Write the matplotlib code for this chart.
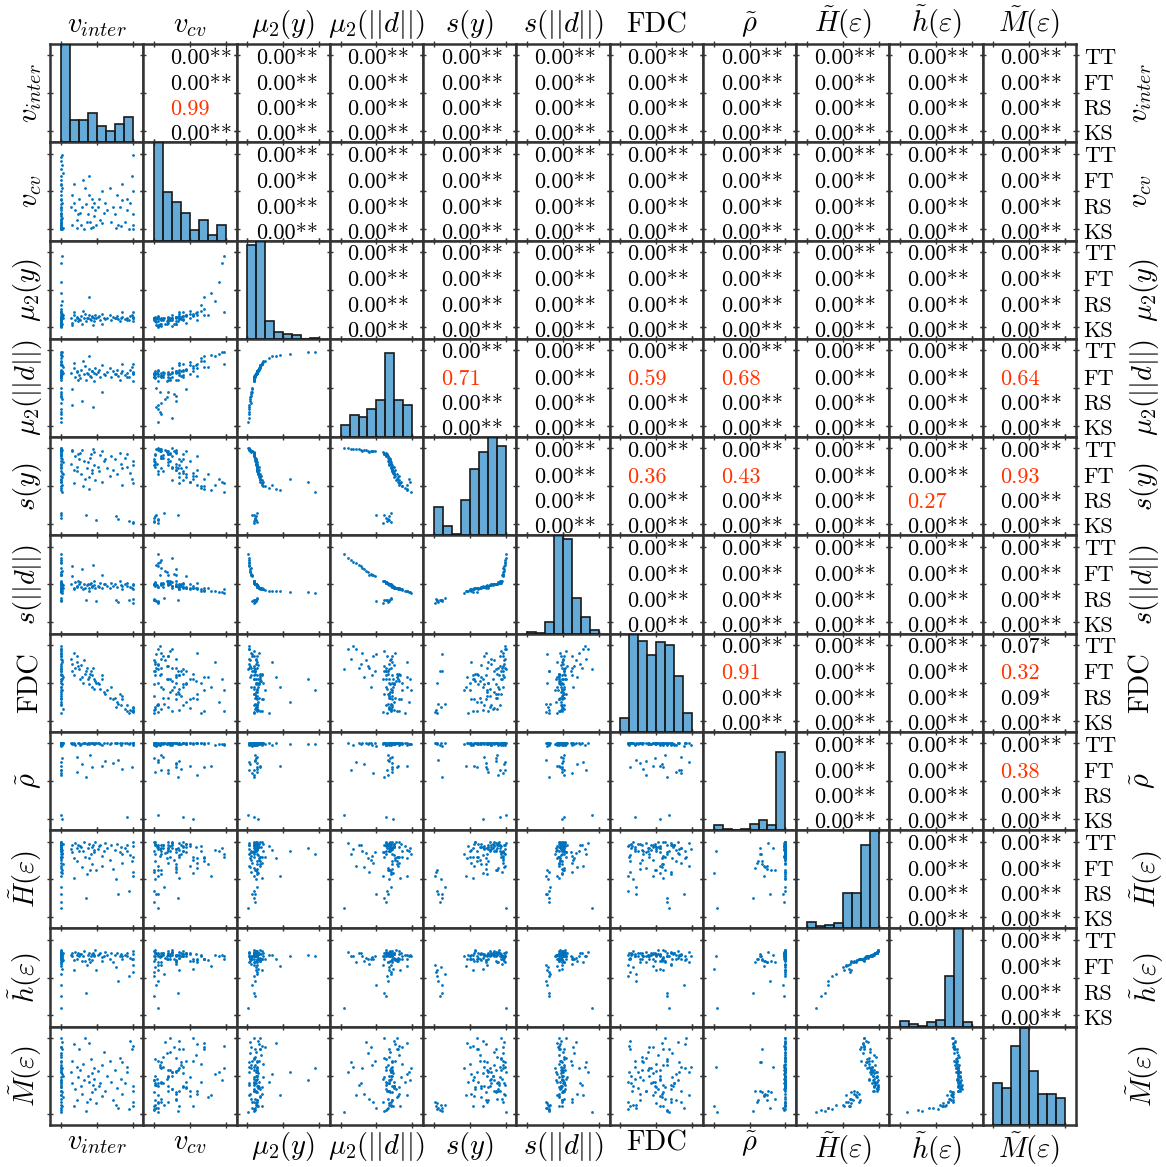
import matplotlib.pyplot as plt
import numpy as np

plt.rcParams['mathtext.fontset'] = 'cm'
plt.rcParams['font.family'] = ['cmr10', 'DejaVu Serif']
plt.rcParams['axes.formatter.use_mathtext'] = True

labels = [r'$v_{inter}$', r'$v_{cv}$', r'$\mu_2(y)$', r'$\mu_2(||d||)$', r'$s(y)$',
          r'$s(||d||)$', 'FDC', r'$\tilde{\rho}$', r'$\tilde{H}(\varepsilon)$',
          r'$\tilde{h}(\varepsilon)$', r'$\tilde{M}(\varepsilon)$']
tests = ['TT', 'FT', 'RS', 'KS']

# samples (normalised to 0..1), one list per measure
v_inter = [0.00, 0.01, 0.00, 0.02, 0.00, 0.01, 0.00, 0.00, 0.02, 0.01,
           0.00, 0.00, 0.03, 0.00, 0.01, 0.00, 0.02, 0.00, 0.00, 0.01,
           0.00, 0.00, 0.02, 0.00, 0.01, 0.00, 0.00, 0.03, 0.00, 0.01,
           0.00, 0.00, 0.02, 0.00, 0.00, 0.01, 0.00, 0.00, 0.02, 0.00,
           0.14, 0.16, 0.18, 0.20, 0.22, 0.15, 0.23, 0.19, 0.24, 0.26,
           0.28, 0.30, 0.32, 0.34, 0.27, 0.36, 0.31, 0.35, 0.38, 0.40,
           0.42, 0.44, 0.45, 0.47, 0.48, 0.39, 0.41, 0.43, 0.46, 0.49,
           0.52, 0.55, 0.58, 0.60, 0.53, 0.57, 0.61, 0.65, 0.68, 0.70,
           0.73, 0.76, 0.78, 0.80, 0.82, 0.84, 0.86, 0.77, 0.85, 0.90,
           0.93, 0.95, 0.97, 1.00, 1.00, 1.00, 0.99, 1.00, 0.92, 1.00]
v_cv = [0.95, 0.10, 0.02, 0.35, 0.60, 0.25, 0.05, 0.80, 0.15, 0.00,
        0.45, 0.20, 0.02, 0.70, 0.30, 0.08, 0.55, 0.12, 0.90, 0.03,
        0.40, 0.18, 0.00, 0.65, 0.22, 0.05, 0.33, 0.75, 0.10, 0.50,
        0.01, 0.28, 0.85, 0.14, 0.38, 0.06, 0.58, 0.00, 0.98, 0.20,
        0.30, 0.05, 0.60, 0.25, 0.02, 0.45, 0.12, 0.35, 0.20, 0.40,
        0.06, 0.30, 0.00, 0.55, 0.22, 0.10, 0.65, 0.33, 0.20, 0.45,
        0.02, 0.30, 0.03, 0.35, 0.25, 0.70, 0.10, 0.40, 0.18, 0.05,
        0.30, 0.12, 0.50, 0.22, 0.40, 0.08, 0.35, 0.25, 0.55, 0.10,
        0.30, 0.20, 0.45, 0.05, 0.30, 0.04, 0.60, 0.02, 0.38, 0.10,
        0.25, 0.00, 0.35, 0.98, 0.50, 0.05, 0.70, 0.20, 0.40, 0.00]
mu2_y = [0.85, 0.05, 0.12, 0.18, 0.10, 0.02, 0.14, 0.45, 0.04, 0.11,
         0.16, 0.06, 0.13, 0.25, 0.05, 0.03, 0.15, 0.11, 0.60, 0.07,
         0.20, 0.04, 0.12, 0.30, 0.10, 0.01, 0.14, 0.17, 0.02, 0.22,
         0.09, 0.05, 0.35, 0.13, 0.11, 0.02, 0.19, 0.12, 0.95, 0.10,
         0.12, 0.03, 0.16, 0.10, 0.14, 0.06, 0.13, 0.20, 0.09, 0.11,
         0.15, 0.04, 0.12, 0.18, 0.10, 0.13, 0.22, 0.09, 0.12, 0.16,
         0.10, 0.14, 0.03, 0.13, 0.17, 0.40, 0.11, 0.15, 0.09, 0.12,
         0.14, 0.10, 0.18, 0.12, 0.15, 0.05, 0.11, 0.13, 0.16, 0.10,
         0.14, 0.12, 0.15, 0.11, 0.09, 0.13, 0.20, 0.12, 0.14, 0.11,
         0.13, 0.10, 0.15, 0.20, 0.12, 0.09, 0.17, 0.14, 0.10, 0.13]
mu2_d = [0.97, 0.30, 0.68, 0.80, 0.66, 0.10, 0.72, 0.93, 0.35, 0.64,
         0.74, 0.45, 0.70, 0.86, 0.40, 0.18, 0.73, 0.67, 0.95, 0.50,
         0.82, 0.38, 0.69, 0.90, 0.60, 0.05, 0.71, 0.78, 0.15, 0.84,
         0.63, 0.42, 0.92, 0.70, 0.66, 0.22, 0.81, 0.68, 0.98, 0.65,
         0.70, 0.28, 0.76, 0.64, 0.72, 0.48, 0.71, 0.83, 0.61, 0.67,
         0.74, 0.33, 0.69, 0.79, 0.63, 0.70, 0.85, 0.60, 0.68, 0.75,
         0.64, 0.72, 0.25, 0.70, 0.77, 0.92, 0.66, 0.73, 0.59, 0.68,
         0.71, 0.65, 0.80, 0.69, 0.74, 0.44, 0.67, 0.71, 0.76, 0.64,
         0.72, 0.69, 0.74, 0.66, 0.60, 0.70, 0.82, 0.68, 0.72, 0.67,
         0.70, 0.65, 0.74, 0.82, 0.68, 0.59, 0.78, 0.71, 0.64, 0.70]
s_y = [0.55, 0.97, 0.80, 0.62, 0.90, 1.00, 0.70, 0.45, 0.98, 0.08,
       0.76, 0.96, 0.82, 0.50, 0.95, 0.99, 0.68, 0.88, 0.60, 0.12,
       0.58, 0.97, 0.86, 0.48, 0.93, 1.00, 0.74, 0.66, 0.99, 0.56,
       0.91, 0.96, 0.52, 0.15, 0.84, 0.99, 0.64, 0.78, 0.42, 0.92,
       0.80, 0.98, 0.72, 0.90, 0.76, 0.97, 0.70, 0.54, 0.92, 0.86,
       0.66, 0.98, 0.84, 0.60, 0.94, 0.74, 0.50, 0.12, 0.82, 0.62,
       0.93, 0.72, 0.99, 0.78, 0.58, 0.46, 0.88, 0.68, 0.95, 0.05,
       0.76, 0.91, 0.56, 0.84, 0.70, 0.97, 0.86, 0.74, 0.64, 0.90,
       0.72, 0.86, 0.66, 0.06, 0.94, 0.80, 0.52, 0.10, 0.74, 0.88,
       0.76, 0.04, 0.68, 0.54, 0.84, 0.02, 0.60, 0.78, 0.92, 0.03]
s_d = [0.40, 0.72, 0.50, 0.44, 0.52, 0.85, 0.47, 0.41, 0.68, 0.30,
       0.46, 0.62, 0.49, 0.43, 0.63, 0.80, 0.48, 0.51, 0.40, 0.28,
       0.45, 0.66, 0.50, 0.42, 0.54, 0.90, 0.47, 0.45, 0.82, 0.44,
       0.53, 0.64, 0.41, 0.32, 0.51, 0.78, 0.45, 0.49, 0.39, 0.52,
       0.50, 0.74, 0.46, 0.53, 0.48, 0.61, 0.47, 0.44, 0.55, 0.51,
       0.47, 0.70, 0.50, 0.45, 0.53, 0.49, 0.44, 0.30, 0.50, 0.46,
       0.52, 0.48, 0.76, 0.49, 0.46, 0.41, 0.51, 0.47, 0.54, 0.28,
       0.48, 0.52, 0.45, 0.50, 0.47, 0.62, 0.50, 0.48, 0.46, 0.52,
       0.48, 0.50, 0.47, 0.27, 0.54, 0.49, 0.44, 0.29, 0.48, 0.51,
       0.48, 0.30, 0.47, 0.44, 0.50, 0.26, 0.46, 0.49, 0.52, 0.31]
fdc = [0.55, 0.90, 0.75, 0.60, 0.35, 0.95, 0.20, 0.45, 0.80, 0.65,
       0.50, 0.85, 0.15, 0.40, 0.70, 0.98, 0.55, 0.30, 0.25, 0.88,
       0.62, 0.72, 0.48, 0.10, 0.92, 0.68, 0.38, 0.58, 0.82, 0.28,
       0.60, 0.45, 0.78, 0.22, 0.65, 0.95, 0.52, 0.32, 0.40, 0.85,
       0.82, 0.75, 0.90, 0.70, 0.78, 0.65, 0.85, 0.60, 0.72, 0.68,
       0.74, 0.58, 0.80, 0.62, 0.55, 0.70, 0.50, 0.65, 0.55, 0.48,
       0.65, 0.60, 0.70, 0.42, 0.52, 0.58, 0.62, 0.45, 0.55, 0.50,
       0.50, 0.42, 0.55, 0.38, 0.48, 0.60, 0.35, 0.40, 0.30, 0.45,
       0.28, 0.30, 0.25, 0.22, 0.35, 0.20, 0.28, 0.18, 0.32, 0.15,
       0.12, 0.10, 0.14, 0.12, 0.16, 0.11, 0.13, 0.18, 0.20, 0.14]
rho = [0.99, 1.00, 0.98, 1.00, 0.58, 1.00, 0.99, 0.70, 1.00, 0.98,
       0.99, 0.60, 1.00, 0.99, 1.00, 0.98, 0.00, 1.00, 0.99, 0.97,
       1.00, 0.99, 0.80, 1.00, 1.00, 0.05, 0.99, 1.00, 0.65, 1.00,
       0.99, 1.00, 0.98, 1.00, 0.99, 0.75, 1.00, 1.00, 0.99, 0.64,
       1.00, 0.99, 1.00, 0.98, 0.62, 1.00, 0.82, 0.99, 1.00, 1.00,
       0.99, 0.72, 1.00, 1.00, 0.98, 0.99, 1.00, 0.55, 1.00, 0.99,
       1.00, 0.68, 1.00, 0.99, 1.00, 1.00, 0.85, 1.00, 0.99, 1.00,
       1.00, 0.99, 0.70, 1.00, 1.00, 0.98, 0.76, 1.00, 0.99, 1.00,
       0.74, 1.00, 1.00, 0.78, 1.00, 0.98, 1.00, 1.00, 0.66, 1.00,
       1.00, 0.99, 1.00, 0.98, 1.00, 1.00, 0.68, 1.00, 0.03, 1.00]
H_eps = [0.92, 0.88, 0.95, 0.80, 0.65, 0.98, 0.90, 0.55, 0.85, 0.20,
         0.93, 0.72, 0.97, 0.80, 0.60, 0.90, 0.58, 0.96, 0.88, 0.30,
         0.99, 0.78, 0.62, 0.94, 0.80, 0.12, 0.91, 0.70, 0.83, 0.97,
         0.99, 0.76, 0.89, 0.40, 0.95, 0.68, 0.93, 0.87, 0.84, 0.92,
         0.90, 0.95, 0.78, 0.98, 0.74, 0.86, 0.91, 0.52, 0.96, 0.88,
         0.93, 0.66, 0.99, 0.80, 0.94, 0.57, 0.87, 0.25, 0.92, 0.97,
         0.84, 0.70, 0.95, 0.89, 0.99, 0.78, 0.62, 0.93, 0.86, 0.62,
         0.90, 0.96, 0.68, 0.88, 0.94, 0.81, 0.98, 0.92, 0.76, 0.95,
         0.64, 0.89, 0.97, 0.30, 0.86, 0.93, 0.72, 0.50, 0.84, 0.91,
         0.96, 0.35, 0.82, 0.80, 0.94, 0.55, 0.74, 0.99, 0.87, 0.60]
h_eps = [0.80, 0.78, 0.82, 0.76, 0.70, 0.84, 0.79, 0.65, 0.76, 0.25,
         0.81, 0.74, 0.83, 0.74, 0.68, 0.79, 0.62, 0.82, 0.78, 0.40,
         0.85, 0.75, 0.72, 0.80, 0.74, 0.10, 0.80, 0.73, 0.78, 0.83,
         0.86, 0.75, 0.80, 0.55, 0.82, 0.71, 0.81, 0.79, 0.78, 0.81,
         0.80, 0.82, 0.73, 0.84, 0.74, 0.79, 0.80, 0.60, 0.83, 0.79,
         0.81, 0.72, 0.85, 0.72, 0.81, 0.67, 0.79, 0.30, 0.80, 0.83,
         0.78, 0.73, 0.82, 0.80, 0.86, 0.74, 0.70, 0.81, 0.79, 0.60,
         0.80, 0.83, 0.72, 0.79, 0.81, 0.77, 0.84, 0.80, 0.75, 0.82,
         0.71, 0.80, 0.83, 0.45, 0.79, 0.81, 0.74, 0.64, 0.78, 0.80,
         0.83, 0.52, 0.76, 0.75, 0.81, 0.66, 0.75, 0.85, 0.79, 0.58]
M_eps = [0.45, 0.60, 0.40, 0.85, 0.30, 0.55, 0.70, 0.25, 0.95, 0.05,
         0.35, 0.15, 0.50, 0.88, 0.20, 0.62, 0.10, 0.75, 0.55, 0.08,
         0.35, 0.80, 0.28, 0.42, 1.00, 0.02, 0.58, 0.22, 0.68, 0.48,
         0.38, 0.88, 0.52, 0.12, 0.65, 0.25, 0.78, 0.45, 0.60, 0.30,
         0.55, 0.40, 0.92, 0.33, 0.18, 0.70, 0.62, 0.10, 0.48, 0.85,
         0.36, 0.26, 0.44, 1.00, 0.58, 0.16, 0.66, 0.04, 0.50, 0.42,
         0.72, 0.28, 0.38, 0.60, 0.32, 0.94, 0.20, 0.54, 0.46, 0.14,
         0.56, 0.40, 0.24, 0.82, 0.36, 0.64, 0.30, 0.50, 0.70, 0.42,
         0.18, 0.58, 0.34, 0.08, 0.74, 0.46, 0.26, 0.12, 0.68, 0.40,
         0.55, 0.06, 0.96, 0.90, 0.30, 0.15, 0.85, 0.36, 0.62, 0.10]
data = [v_inter, v_cv, mu2_y, mu2_d, s_y, s_d, fdc, rho, H_eps, h_eps, M_eps]

# diagonal histograms, 8 bins each, height relative to the panel
hist_v_inter = [1.0, 0.23, 0.23, 0.30, 0.17, 0.11, 0.19, 0.26]
hist_v_cv = [1.0, 0.49, 0.39, 0.28, 0.11, 0.21, 0.06, 0.16]
hist_mu2_y = [0.95, 1.0, 0.18, 0.065, 0.05, 0.035, 0.0, 0.005]
hist_mu2_d = [0.12, 0.22, 0.20, 0.29, 0.38, 0.86, 0.38, 0.33]
hist_s_y = [0.29, 0.10, 0.01, 0.36, 0.68, 0.85, 1.0, 0.91]
hist_s_d = [0.014, 0.007, 0.12, 1.0, 0.96, 0.36, 0.17, 0.034]
hist_fdc = [0.14, 1.0, 0.93, 0.78, 0.91, 0.88, 0.57, 0.19]
hist_rho = [0.055, 0.01, 0.003, 0.007, 0.06, 0.10, 0.05, 0.80]
hist_H = [0.07, 0.03, 0.04, 0.06, 0.36, 0.36, 0.85, 0.99]
hist_h = [0.06, 0.025, 0.007, 0.045, 0.066, 0.52, 1.0, 0.05]
hist_M = [0.43, 0.38, 0.80, 0.99, 0.55, 0.32, 0.32, 0.27]
hists = [hist_v_inter, hist_v_cv, hist_mu2_y, hist_mu2_d, hist_s_y, hist_s_d,
         hist_fdc, hist_rho, hist_H, hist_h, hist_M]

# p-values of the upper triangle, row i holds columns i+1..10
p_tt = [[0] * 10, [0] * 9, [0] * 8, [0] * 7, [0] * 6, [0] * 5,
        [0, 0, 0, 0.07], [0] * 3, [0] * 2, [0]]
p_ft = [[0] * 10, [0] * 9, [0] * 8,
        [0.71, 0, 0.59, 0.68, 0, 0, 0.64],
        [0, 0.36, 0.43, 0, 0, 0.93],
        [0] * 5,
        [0.91, 0, 0, 0.32],
        [0, 0, 0.38], [0] * 2, [0]]
p_rs = [[0.99] + [0] * 9, [0] * 9, [0] * 8, [0] * 7,
        [0, 0, 0, 0, 0.27, 0],
        [0] * 5, [0, 0, 0, 0.09], [0] * 3, [0] * 2, [0]]
p_ks = [[0] * 10, [0] * 9, [0] * 8, [0] * 7, [0] * 6, [0] * 5,
        [0] * 4, [0] * 3, [0] * 2, [0]]
pvals = [p_tt, p_ft, p_rs, p_ks]

blue = '#0072BD'
red = '#FF3300'
dark = '#333333'
n = len(labels)
edges = np.linspace(0, 1, 9)
text_y = [0.80, 0.535, 0.275, 0.02]

fig, axes = plt.subplots(n, n, figsize=(11.66, 11.67), dpi=100)
fig.subplots_adjust(left=50 / 1166, right=1076 / 1166, top=1 - 44 / 1167,
                    bottom=1 - 1125 / 1167, wspace=0, hspace=0)

for i in range(n):
    for j in range(n):
        ax = axes[i, j]
        ax.set_xlim(-0.15, 1.15)
        ax.set_ylim(-0.15, 1.15)
        ax.set_xticks([0, 0.5, 1])
        ax.set_yticks([0, 0.5, 1])
        ax.tick_params(direction='inout', length=5, width=1, color=dark,
                       top=True, right=True, labelbottom=False, labelleft=False)
        for sp in ax.spines.values():
            sp.set_linewidth(1.8)
            sp.set_color(dark)

        if i > j:
            ax.scatter(data[j], data[i], s=4, color=blue, linewidths=0)
        elif i == j:
            hx = ax.twinx()
            hx.bar(edges[:-1], hists[i], width=1 / 8, align='edge',
                   color=(0, 0.447, 0.741, 0.6), edgecolor='#1a1a1a', linewidth=1.2)
            hx.set_ylim(0, 1)
            hx.set_yticks([])
            for sp in hx.spines.values():
                sp.set_visible(False)
        else:
            tx = 0.29 if j == 1 else (0.21 if j == 2 else 0.19)
            for k in range(4):
                p = pvals[k][i][j - i - 1]
                if p < 0.05:
                    s, c = f'{p:.2f}**', 'black'
                elif p < 0.1:
                    s, c = f'{p:.2f}*', 'black'
                else:
                    s, c = f'{p:.2f}', red
                ax.text(tx, text_y[k], s, transform=ax.transAxes, fontsize=16,
                        color=c, ha='left', va='baseline')

    if i < n - 1:
        for k in range(4):
            axes[i, -1].text(1.083, text_y[k], tests[k], transform=axes[i, -1].transAxes,
                             fontsize=16, ha='left', va='baseline', clip_on=False)

for j in range(n):
    top = axes[0, j]
    top.xaxis.set_label_position('top')
    top.set_xlabel(labels[j], fontsize=20.5, labelpad=6)
    axes[-1, j].set_xlabel(labels[j], fontsize=20.5, labelpad=1)
for i in range(n):
    axes[i, 0].set_ylabel(labels[i], fontsize=20.5, labelpad=2)
    right = axes[i, -1]
    right.yaxis.set_label_position('right')
    right.set_ylabel(labels[i], fontsize=20.5, labelpad=35)

plt.savefig('out.png', dpi=100, facecolor='white')
